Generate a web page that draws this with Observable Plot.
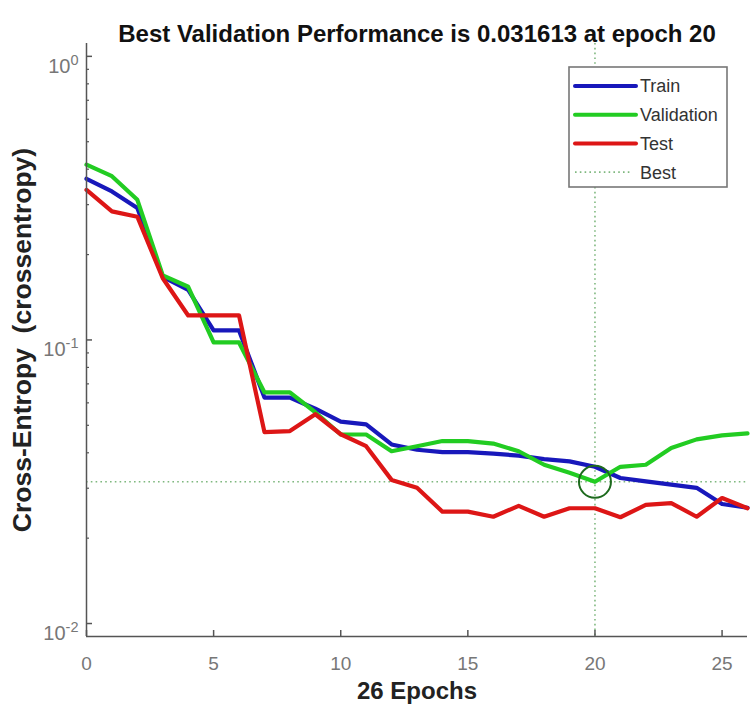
<!DOCTYPE html>
<html><head><meta charset="utf-8">
<script src="https://cdn.jsdelivr.net/npm/d3@7"></script>
<script src="https://cdn.jsdelivr.net/npm/@observablehq/plot@0.6"></script>
<style>body{margin:0;background:#fff;} #chart{width:753px;height:719px;}</style>
</head><body><div id="chart"></div>
<script>
const epochs = [0,1,2,3,4,5,6,7,8,9,10,11,12,13,14,15,16,17,18,19,20,21,22,23,24,25,26];
const train = [0.370,0.334,0.292,0.167,0.150,0.108,0.108,0.0626,0.0626,0.0572,0.0515,0.0504,0.0428,0.0410,0.0402,0.0402,0.0397,0.0391,0.0380,0.0373,0.0357,0.0326,0.0317,0.0309,0.0301,0.0264,0.0256];
const validation = [0.415,0.378,0.312,0.169,0.154,0.098,0.098,0.0653,0.0653,0.0556,0.0464,0.0464,0.0405,0.0422,0.0440,0.0440,0.0431,0.0405,0.0363,0.0340,0.031613,0.0357,0.0363,0.0416,0.0446,0.0461,0.0468];
const test = [0.338,0.284,0.272,0.165,0.122,0.122,0.122,0.0473,0.0477,0.0547,0.0465,0.0422,0.0321,0.0301,0.0248,0.0248,0.0238,0.0260,0.0238,0.0255,0.0255,0.0237,0.0262,0.0266,0.0238,0.0277,0.0255];
const seriesNames = ["Train","Validation","Test"];
const bestName = "Best";
const bestEpoch = 20;
const bestValue = 0.031613;
const xTicks = [0,5,10,15,20,25];
const yMajorTicks = [1,0.1,0.01];
const yTickExponents = ["0","-1","-2"];
const yMinorTicks = [0.02,0.03,0.04,0.05,0.06,0.07,0.08,0.09,0.2,0.3,0.4,0.5,0.6,0.7,0.8,0.9];
const xDomain = [0,26];
const yDomain = [0.009,1.11];
const titleText = "Best Validation Performance is 0.031613 at epoch 20";
const xLabelText = "26 Epochs";
const yLabelText = "Cross-Entropy  (crossentropy)";

const colors = {Train:"#1818bb", Validation:"#22cc22", Test:"#dd1616"};
const bestColor = "#7fb87f";
const axisColor = "#555";
const font = "Liberation Sans, Arial, Helvetica, sans-serif";

const seriesValues = [train, validation, test];
const rows = [];
seriesNames.forEach((name, i) => epochs.forEach((e, j) => rows.push({series:name, epoch:e, value:seriesValues[i][j]})));

const svg = Plot.plot({
  width:753, height:719,
  marginLeft:86, marginRight:6, marginTop:43, marginBottom:83,
  style:{fontFamily:font, background:"#fff", overflow:"visible"},
  x:{domain:xDomain, label:null},
  y:{type:"log", domain:yDomain, label:null},
  marks:[
    Plot.ruleY([bestValue], {stroke:bestColor, strokeWidth:1.6, strokeDasharray:"1.6,3.2"}),
    Plot.ruleX([bestEpoch], {stroke:bestColor, strokeWidth:1.6, strokeDasharray:"1.6,3.2"}),
    Plot.line(rows, {x:"epoch", y:"value", z:"series", stroke:d=>colors[d.series], strokeWidth:4.2, strokeLinejoin:"round"}),
    Plot.dot([{epoch:bestEpoch, value:bestValue}], {x:"epoch", y:"value", r:16, stroke:"#1d6a1d", strokeWidth:2, fill:"none"}),
    Plot.ruleX([xDomain[0]], {stroke:axisColor, strokeWidth:1.5}),
    Plot.ruleY([yDomain[0]], {stroke:axisColor, strokeWidth:1.5}),
    Plot.axisX({ticks:xTicks, tickSize:-6, text:null, stroke:axisColor, strokeWidth:1.5, label:null}),
    Plot.axisX({ticks:xTicks, tickSize:0, tickPadding:20, fontSize:19, fill:"#777", tickFormat:d=>String(d), label:null}),
    Plot.axisY({ticks:yMajorTicks, tickSize:-6, text:null, stroke:axisColor, strokeWidth:1.5, label:null}),
    Plot.axisY({ticks:yMinorTicks, tickSize:-3, text:null, stroke:axisColor, strokeWidth:1.2, label:null}),
    Plot.axisY({ticks:yMajorTicks, tickSize:0, tickPadding:8, fontSize:20, fill:"#777", tickFormat:d=>"10^" + yTickExponents[yMajorTicks.indexOf(d)], label:null}),
    Plot.text([titleText], {frameAnchor:"top", dy:-19, fontSize:24, fontWeight:"bold", fill:"#111"}),
    Plot.text([xLabelText], {frameAnchor:"bottom", dy:62, fontSize:24, fontWeight:"bold", fill:"#222"}),
    Plot.text([yLabelText], {frameAnchor:"left", textAnchor:"middle", dx:-64, rotate:-90, fontSize:26.5, fontWeight:"bold", fill:"#222"})
  ]
});

// superscript exponents on y tick labels
d3.select(svg).selectAll("g[aria-label='y-axis tick label'] text").each(function() {
  const t = d3.select(this);
  const s = t.text();
  if (s.indexOf("^") < 0) return;
  const parts = s.split("^");
  t.text(null).attr("dy", "0.5em");
  t.append("tspan").text(parts[0]);
  t.append("tspan").attr("dy", -8).attr("font-size", 14.5).text(parts[1]);
});

// legend
const lg = d3.select(svg).append("g").attr("font-family", font).attr("font-size", 18).attr("text-anchor", "start");
lg.append("rect").attr("x",569).attr("y",67).attr("width",158).attr("height",120)
  .attr("fill","#fff").attr("stroke","#777").attr("stroke-width",1.6);
const legendItems = seriesNames.concat([bestName]);
legendItems.forEach((name, i) => {
  const y = 86 + i*28.7;
  const isBest = name === bestName;
  lg.append("line").attr("x1",575).attr("x2", isBest ? 632 : 636).attr("y1",y).attr("y2",y)
    .attr("stroke", isBest ? bestColor : colors[name])
    .attr("stroke-width", isBest ? 1.6 : 4)
    .attr("stroke-dasharray", isBest ? "1.6,3.2" : null)
    .attr("stroke-linecap", isBest ? null : "round");
  lg.append("text").attr("x",640).attr("y",y).attr("dy","0.36em").attr("fill","#333").text(name);
});

document.getElementById("chart").appendChild(svg);
</script>
</body></html>
